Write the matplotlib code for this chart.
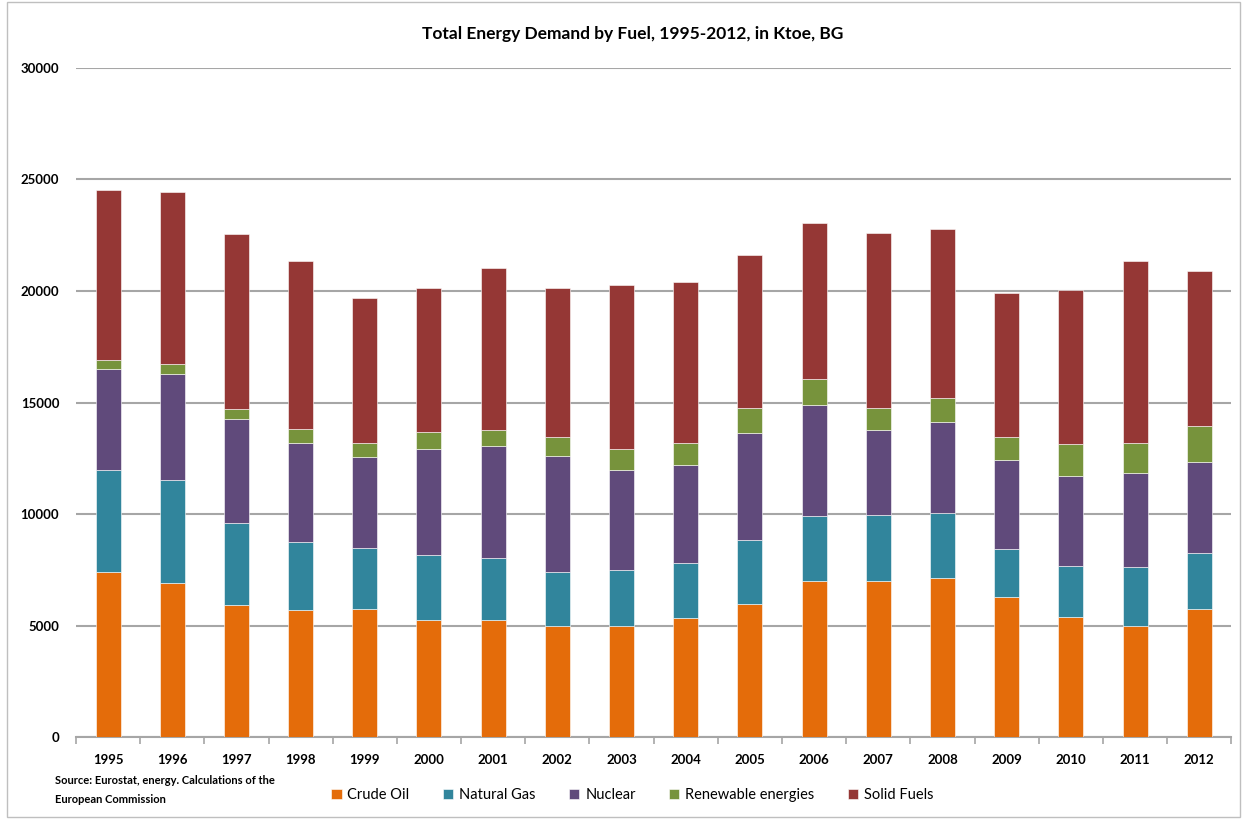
import matplotlib.pyplot as plt
import numpy as np

years = [str(y) for y in range(1995, 2013)]
crude_oil = [7400, 6890, 5910, 5680, 5750, 5260, 5260, 4980, 4980, 5320,
             5980, 6980, 6980, 7120, 6270, 5400, 4980, 5750]
natural_gas = [4570, 4650, 3700, 3080, 2710, 2920, 2780, 2420, 2500, 2490,
               2860, 2930, 2990, 2930, 2150, 2290, 2650, 2500]
nuclear = [4520, 4720, 4650, 4410, 4080, 4720, 5010, 5220, 4500, 4370,
           4780, 4990, 3780, 4070, 3990, 4010, 4200, 4070]
renewables = [420, 490, 440, 660, 630, 780, 700, 850, 930, 990,
              1140, 1140, 1000, 1080, 1060, 1420, 1350, 1640]
solid_fuels = [7620, 7710, 7840, 7500, 6520, 6440, 7290, 6650, 7360, 7220,
               6850, 7000, 7860, 7560, 6430, 6920, 8160, 6940]

series = [
    ("Crude Oil", crude_oil, "#E46C0A"),
    ("Natural Gas", natural_gas, "#31859C"),
    ("Nuclear", nuclear, "#604A7B"),
    ("Renewable energies", renewables, "#77933C"),
    ("Solid Fuels", solid_fuels, "#953735"),
]

plt.rcParams['font.family'] = ['Lato', 'DejaVu Sans']

fig = plt.figure(figsize=(12.45, 8.19), dpi=100)
ax = fig.add_axes([0.061, 0.100, 0.928, 0.817])

x = np.arange(len(years))
bottom = np.zeros(len(years))
for name, vals, col in series:
    ax.bar(x, vals, width=0.39, bottom=bottom, color=col, label=name,
           edgecolor="white", linewidth=0.4, zorder=3)
    bottom += np.array(vals)

ax.set_ylim(0, 30000)
ax.set_xlim(-0.5, len(years) - 0.5)
ax.set_yticks(range(0, 30001, 5000))
ax.yaxis.grid(True, color="#A6A6A6", linewidth=1.5, zorder=0)
ax.set_xticks(x)
ax.set_xticklabels(years, fontsize=9.5, fontweight="bold")
ax.tick_params(axis="x", length=0, pad=12)
ax.tick_params(axis="y", length=0, pad=12, labelsize=9.5)
for t in ax.get_yticklabels():
    t.set_fontweight("bold")

# minor ticks between categories on the x axis
ax.set_xticks(np.arange(-0.5, len(years), 1), minor=True)
ax.tick_params(axis="x", which="minor", length=5, color="#A6A6A6", width=1.2)

for s in ["top", "right", "left"]:
    ax.spines[s].set_visible(False)
ax.spines["bottom"].set_color("#A6A6A6")
ax.spines["bottom"].set_linewidth(1.5)

fig.text(0.508, 0.958, "Total Energy Demand by Fuel, 1995-2012, in Ktoe, BG",
         ha="center", va="center", fontsize=12.5, fontweight="bold")

fig.text(0.044, 0.035, "Source: Eurostat, energy. Calculations of the\nEuropean Commission",
         ha="left", va="center", fontsize=8, fontweight="bold", linespacing=1.9)

fig.legend(loc="center", bbox_to_anchor=(0.508, 0.029), ncol=5, frameon=False,
           fontsize=10.5, handlelength=0.7, handleheight=0.7, handletextpad=0.4,
           columnspacing=2.3)

# outer border
fig.patches.append(plt.Rectangle((0.006, 0.002), 0.99, 0.995, transform=fig.transFigure,
                                 fill=False, edgecolor="#BFBFBF", linewidth=1))

fig.savefig("out.png", dpi=100)
